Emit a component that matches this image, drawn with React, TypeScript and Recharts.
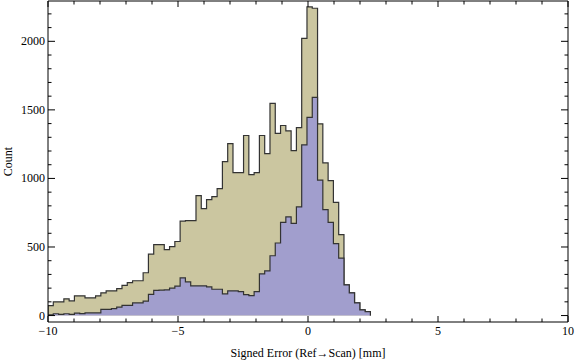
import React from "react";
import { ComposedChart, Area, XAxis, YAxis } from "recharts";

// histogram bins: 61 bins from -10 up to 2.4
const BIN_START = -10;
const BIN_WIDTH = 12.4 / 61;

// all points (tan)
const allCounts = [
  73, 100, 100, 122, 107, 144, 144, 129, 129, 144,
  166, 180, 180, 197, 220, 240, 254, 254, 312, 448,
  517, 517, 481, 503, 540, 688, 692, 692, 875, 780,
  845, 867, 925, 1123, 1254, 1042, 1042, 1313, 1028, 1043,
  1313, 1181, 1547, 1328, 1386, 1347, 1203, 1371, 2022, 2251,
  2241, 1398, 1113, 984, 826, 590, 224, 166, 93, 41,
  29,
];

// subset (blue)
const subsetCounts = [
  6, 13, 9, 13, 8, 17, 14, 19, 19, 19,
  45, 45, 51, 61, 74, 74, 92, 92, 105, 155,
  184, 185, 188, 200, 214, 275, 245, 217, 217, 217,
  209, 192, 192, 158, 180, 180, 175, 153, 146, 175,
  304, 326, 436, 529, 680, 719, 672, 792, 1245, 1445,
  1591, 987, 772, 680, 524, 419, 224, 166, 93, 41,
  29,
];

const xTicks = [-10, -9, -8, -7, -6, -5, -4, -3, -2, -1, 0, 1, 2, 3, 4, 5, 6, 7, 8, 9, 10];
const yTicks = [
  0, 100, 200, 300, 400, 500, 600, 700, 800, 900, 1000, 1100,
  1200, 1300, 1400, 1500, 1600, 1700, 1800, 1900, 2000, 2100, 2200,
];

const TAN = "#CBC6A0";
const BLUE = "#A19ECD";
const EDGE = "#333333";
const FONT = "'Liberation Serif', 'Times New Roman', serif";

const rows = [{ x: BIN_START, all: 0, sub: 0 }];
allCounts.forEach((v, i) => {
  rows.push({ x: BIN_START + i * BIN_WIDTH, all: v, sub: subsetCounts[i] });
});
rows.push({ x: BIN_START + allCounts.length * BIN_WIDTH, all: 0, sub: 0 });

const fmt = (v: number) => (v < 0 ? "\u2212" + Math.abs(v) : String(v));

function BottomTick(props: any) {
  const { x, y, payload } = props;
  const major = payload.value % 5 === 0;
  return (
    <g>
      <line x1={x} y1={y} x2={x} y2={y - (major ? 6 : 3.5)} stroke="#000" />
      {major && (
        <text x={x} y={y + 13} textAnchor="middle" fontFamily={FONT} fontSize={12} fill="#000">
          {fmt(payload.value)}
        </text>
      )}
    </g>
  );
}

function TopTick(props: any) {
  const { x, y, payload } = props;
  const major = payload.value % 5 === 0;
  return <line x1={x} y1={y} x2={x} y2={y + (major ? 6 : 3.5)} stroke="#000" />;
}

function LeftTick(props: any) {
  const { x, y, payload } = props;
  const major = payload.value % 500 === 0;
  return (
    <g>
      <line x1={x} y1={y} x2={x + (major ? 7 : 3.5)} y2={y} stroke="#000" />
      {major && (
        <text x={x - 3} y={y + 4} textAnchor="end" fontFamily={FONT} fontSize={12} fill="#000">
          {fmt(payload.value)}
        </text>
      )}
    </g>
  );
}

function RightTick(props: any) {
  const { x, y, payload } = props;
  const major = payload.value % 500 === 0;
  return <line x1={x} y1={y} x2={x - (major ? 7 : 3.5)} y2={y} stroke="#000" />;
}

function XTitle(props: any) {
  const vb = props.viewBox;
  return (
    <text x={vb.x + vb.width / 2} y={vb.y + 35} textAnchor="middle" fontFamily={FONT} fontSize={12} fill="#000">
      Signed Error (Ref{"\u2192"}Scan) [mm]
    </text>
  );
}

function YTitle(props: any) {
  const vb = props.viewBox;
  const cx = 12;
  const cy = vb.y + vb.height / 2;
  return (
    <text x={cx} y={cy} transform={`rotate(-90, ${cx}, ${cy})`} textAnchor="middle" fontFamily={FONT} fontSize={12} fill="#000">
      Count
    </text>
  );
}

export default function App() {
  return (
    <div style={{ position: "absolute", left: 0, top: 0 }}>
      <ComposedChart width={576} height={363} data={rows} margin={{ top: 0, right: 0, bottom: 0, left: 0 }}>
        <XAxis
          dataKey="x"
          type="number"
          domain={[-10, 10]}
          ticks={xTicks}
          allowDataOverflow
          height={41}
          tickSize={0}
          tickMargin={0}
          axisLine={{ stroke: "#000" }}
          tickLine={false}
          tick={<BottomTick />}
          interval={0}
          label={{ content: <XTitle /> }}
        />
        <XAxis
          xAxisId="top"
          orientation="top"
          dataKey="x"
          type="number"
          domain={[-10, 10]}
          ticks={xTicks}
          allowDataOverflow
          height={1}
          tickSize={0}
          tickMargin={0}
          axisLine={{ stroke: "#000" }}
          tickLine={false}
          tick={<TopTick />}
          interval={0}
        />
        <YAxis
          type="number"
          domain={[-47, 2294]}
          ticks={yTicks}
          allowDataOverflow
          width={48}
          tickSize={0}
          tickMargin={0}
          axisLine={{ stroke: "#000" }}
          tickLine={false}
          tick={<LeftTick />}
          interval={0}
          label={{ content: <YTitle /> }}
        />
        <YAxis
          yAxisId="right"
          orientation="right"
          type="number"
          domain={[-47, 2294]}
          ticks={yTicks}
          allowDataOverflow
          width={8}
          tickSize={0}
          tickMargin={0}
          axisLine={{ stroke: "#000" }}
          tickLine={false}
          tick={<RightTick />}
          interval={0}
        />
        <Area
          type="stepAfter"
          dataKey="all"
          baseValue={0}
          fill={TAN}
          fillOpacity={1}
          stroke={EDGE}
          strokeWidth={1.2}
          dot={false}
          activeDot={false}
          isAnimationActive={false}
        />
        <Area
          type="stepAfter"
          dataKey="sub"
          baseValue={0}
          fill={BLUE}
          fillOpacity={1}
          stroke={EDGE}
          strokeWidth={1.2}
          dot={false}
          activeDot={false}
          isAnimationActive={false}
        />
      </ComposedChart>
    </div>
  );
}
